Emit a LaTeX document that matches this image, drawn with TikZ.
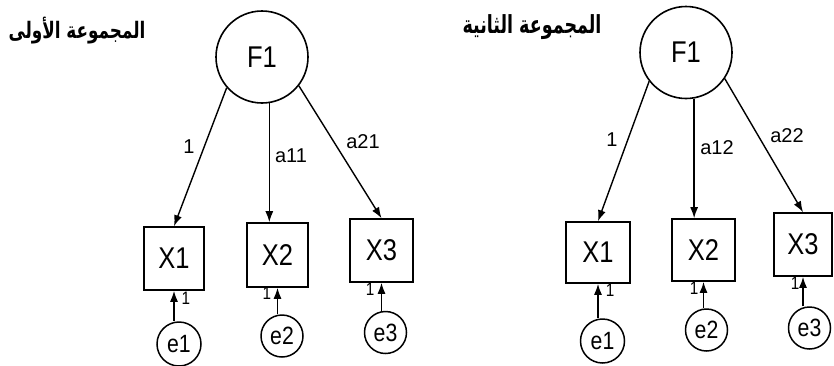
\documentclass[tikz,border=0pt]{standalone}
\usepackage{fontspec}
\usepackage{graphicx}
\setmainfont{Liberation Sans}
\newfontfamily\nar[FakeStretch=0.85]{Liberation Sans}
\newfontfamily\arabicfont[Script=Arabic]{DejaVu Sans}
\TeXXeTstate=1
\usetikzlibrary{arrows.meta,calc}
\tikzset{
  lat/.style={draw,circle,line width=1.6pt,inner sep=0pt,minimum size=92pt,font=\nar\fontsize{30}{30}\selectfont},
  obs/.style={draw,rectangle,line width=1.6pt,inner sep=0pt,font=\nar\fontsize{30}{30}\selectfont},
  err/.style={draw,circle,line width=1.5pt,inner sep=0pt,minimum size=42pt,font=\nar\fontsize{25}{25}\selectfont},
  arr/.style={line width=1.4pt,-{Latex[length=11pt,width=8pt]}},
  lab/.style={inner sep=0pt,font=\fontsize{20}{20}\selectfont},
  one/.style={inner sep=0pt,font=\nar\fontsize{18}{18}\selectfont},
  ttl/.style={inner sep=0pt}
}
\begin{document}
\begin{tikzpicture}[x=1pt,y=-1pt]
\useasboundingbox (0,0) rectangle (834,365);
% ---------- left group ----------
\node[ttl] (tL) at (77,31) {\resizebox*{137pt}{27pt}{\arabicfont\bfseries\beginR المجموعة الأولى\endR}};
\node[lat] (F1L) at (262,57) {F1};
\node[obs,minimum width=60pt,minimum height=63pt] (X1L) at (174,258.5) {X1};
\node[obs,minimum width=61pt,minimum height=64pt] (X2L) at (277.5,255) {X2};
\node[obs,minimum width=63pt,minimum height=63pt] (X3L) at (381.5,250.5) {X3};
\node[err,minimum size=44pt] (e1L) at (179,344) {e1};
\node[err] (e2L) at (282,336) {e2};
\node[err] (e3L) at (385.5,332.5) {e3};
\draw[arr] (F1L.221) -- (X1L.north);
\draw[arr] (F1L.-81) -- (F1L.-81 |- X2L.north);
\draw[arr] (F1L.-38) -- (X3L.north);
\draw[arr] (X1L.south |- e1L.north) -- (X1L.south);
\draw[arr] (X2L.south |- e2L.north) -- (X2L.south);
\draw[arr] (X3L.south |- e3L.north) -- (X3L.south);
\node[lab] (l1L) at (189,147) {1};
\node[lab] (l2L) at (291,156) {a11};
\node[lab] (l3L) at (363,142) {a21};
\node[one] (o1L) at (186,298) {1};
\node[one] (o2L) at (267,293) {1};
\node[one] (o3L) at (370,289) {1};
% ---------- right group ----------
\node[ttl] (tR) at (532,27) {\resizebox*{139pt}{25pt}{\arabicfont\bfseries\beginR المجموعة الثانية\endR}};
\node[lat] (F1R) at (686,52.5) {F1};
\node[obs,minimum width=64pt,minimum height=61pt] (X1R) at (598,252.5) {X1};
\node[obs,minimum width=63pt,minimum height=62pt] (X2R) at (703.5,250) {X2};
\node[obs,minimum width=58pt,minimum height=63pt] (X3R) at (803,244.5) {X3};
\node[err,minimum size=44pt] (e1R) at (602.5,341) {e1};
\node[err] (e2R) at (706.5,330) {e2};
\node[err] (e3R) at (809.5,328) {e3};
\draw[arr] (F1R.218) -- (X1R.north);
\draw[arr] (F1R.-80) -- (F1R.-80 |- X2R.north);
\draw[arr] (F1R.-34) -- (X3R.north);
\draw[arr] (X1R.south |- e1R.north) -- (X1R.south);
\draw[arr] (X2R.south |- e2R.north) -- (X2R.south);
\draw[arr] (X3R.south |- e3R.north) -- (X3R.south);
\node[lab] (l1R) at (612,140) {1};
\node[lab] (l2R) at (717,148) {a12};
\node[lab] (l3R) at (787,136) {a22};
\node[one] (o1R) at (610,290) {1};
\node[one] (o2R) at (694,288) {1};
\node[one] (o3R) at (795,283) {1};
\end{tikzpicture}
\end{document}
